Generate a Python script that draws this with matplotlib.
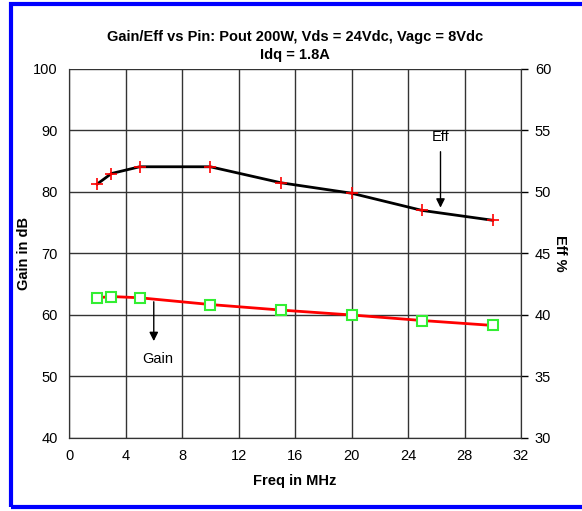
import matplotlib.pyplot as plt
from matplotlib.patches import Rectangle

plt.rcParams['font.family'] = ['Liberation Sans', 'DejaVu Sans']

freq = [2, 3, 5, 10, 15, 20, 25, 30]
gain = [62.8, 63.0, 62.8, 61.7, 60.8, 60.0, 59.1, 58.3]
eff = [50.65, 51.5, 52.05, 52.05, 50.75, 49.9, 48.5, 47.7]

fig = plt.figure(figsize=(5.82, 5.11), dpi=100)
ax = fig.add_axes([0.1186, 0.1429, 0.7766, 0.7221])
ax2 = ax.twinx()

# gain: red line, green open squares
ax.plot(freq, gain, color='red', lw=2, zorder=3)
ax.plot(freq, gain, ls='none', marker='s', ms=7, mfc='white', mec='#33ee33', mew=1.5, zorder=4)

# eff: black line, red plus markers
ax2.plot(freq, eff, color='black', lw=2, zorder=3)
ax2.plot(freq, eff, ls='none', marker='+', ms=8, mec='red', mew=1.2, zorder=4)

ax.set_xlim(0, 32)
ax.set_ylim(40, 100)
ax2.set_ylim(30, 60)
ax.set_xticks(range(0, 33, 4))
ax.set_yticks(range(40, 101, 10))
ax2.set_yticks(range(30, 61, 5))
ax.grid(True, color='#333333', lw=1)
ax.set_axisbelow(True)

ax.tick_params(axis='both', length=0, labelsize=10.5, pad=8)
ax2.tick_params(axis='y', length=5, width=1, labelsize=10.5, pad=5)
for a in (ax, ax2):
    a.spines['top'].set_visible(False)
    for s in a.spines.values():
        s.set_color('#333333')

ax.set_xlabel('Freq in MHz', fontsize=10.5, fontweight='bold', labelpad=8)
ax.set_ylabel('Gain in dB', fontsize=10.5, fontweight='bold')
ax.yaxis.set_label_coords(-0.084, 0.5)
ax2.set_ylabel('Eff %', fontsize=10.5, fontweight='bold', rotation=-90, va='center')
ax2.yaxis.set_label_coords(1.086, 0.5)

ax.set_title('Gain/Eff vs Pin: Pout 200W, Vds = 24Vdc, Vagc = 8Vdc\nIdq = 1.8A',
             fontsize=10.5, fontweight='bold', pad=7, linespacing=1.35)

# annotations
ax2.annotate('', xy=(26.3, 48.5), xytext=(26.3, 53.5),
             arrowprops=dict(arrowstyle='-|>', color='black', lw=1, mutation_scale=13))
ax2.text(26.3, 54.45, 'Eff', ha='center', va='center', fontsize=10.5)
ax.annotate('', xy=(6.0, 55.3), xytext=(6.0, 62.6),
            arrowprops=dict(arrowstyle='-|>', color='black', lw=1, mutation_scale=13))
ax.text(6.3, 52.8, 'Gain', ha='center', va='center', fontsize=10.5)

# blue frame
fig.patches.append(Rectangle((11 / 582, 1 - 507 / 511), 1.2, (507 - 4) / 511,
                             transform=fig.transFigure, fill=False,
                             edgecolor='#0000ff', lw=3, clip_on=False))

fig.savefig('out.png', dpi=100)
